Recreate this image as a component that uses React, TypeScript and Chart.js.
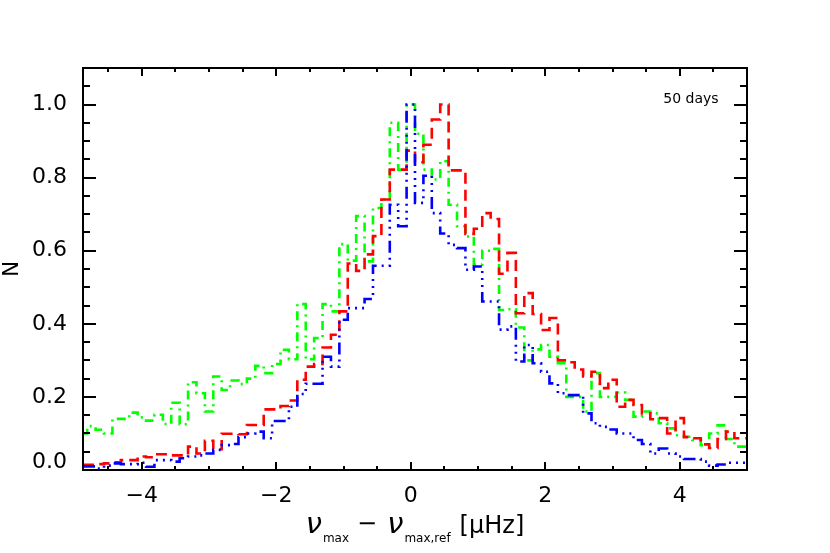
import { useEffect, useRef } from "react";
import { Chart, registerables } from "chart.js";

Chart.register(...registerables);

// Bin centres (x, in µHz) of the histograms
const BIN_CENTERS = [
  -4.875, -4.75, -4.625, -4.5, -4.375, -4.25, -4.125, -4, -3.875, -3.75,
  -3.625, -3.5, -3.375, -3.25, -3.125, -3, -2.875, -2.75, -2.625, -2.5,
  -2.375, -2.25, -2.125, -2, -1.875, -1.75, -1.625, -1.5, -1.375, -1.25,
  -1.125, -1, -0.875, -0.75, -0.625, -0.5, -0.375, -0.25, -0.125, 0,
  0.125, 0.25, 0.375, 0.5, 0.625, 0.75, 0.875, 1, 1.125, 1.25,
  1.375, 1.5, 1.625, 1.75, 1.875, 2, 2.125, 2.25, 2.375, 2.5,
  2.625, 2.75, 2.875, 3, 3.125, 3.25, 3.375, 3.5, 3.625, 3.75,
  3.875, 4, 4.125, 4.25, 4.375, 4.5, 4.625, 4.75, 4.875, 5,
];

const GREEN_N = [
  0.1, 0.12, 0.11, 0.1, 0.14, 0.14, 0.157, 0.144, 0.135, 0.151,
  0.126, 0.184, 0.125, 0.24, 0.21, 0.16, 0.256, 0.219, 0.245, 0.235,
  0.25, 0.285, 0.265, 0.29, 0.329, 0.303, 0.454, 0.303, 0.361, 0.454,
  0.434, 0.618, 0.573, 0.695, 0.571, 0.717, 0.74, 0.95, 0.822, 1.0,
  0.92, 0.822, 0.795, 0.845, 0.726, 0.667, 0.639, 0.562, 0.6, 0.605,
  0.438, 0.44, 0.39, 0.3, 0.33, 0.342, 0.31, 0.292, 0.2, 0.2,
  0.16, 0.265, 0.2, 0.2, 0.212, 0.192, 0.146, 0.16, 0.155, 0.128,
  0.114, 0.095, 0.091, 0.082, 0.068, 0.1, 0.122, 0.085, 0.064, 0.064,
];

const RED_N = [
  0.014, 0.014, 0.016, 0.018, 0.021, 0.027, 0.027, 0.037, 0.035, 0.043,
  0.043, 0.04, 0.04, 0.064, 0.045, 0.08, 0.057, 0.099, 0.099, 0.098,
  0.123, 0.123, 0.166, 0.166, 0.175, 0.19, 0.247, 0.283, 0.29, 0.335,
  0.37, 0.434, 0.565, 0.545, 0.59, 0.64, 0.74, 0.822, 0.822, 0.874,
  0.842, 0.89, 0.959, 1.0, 0.82, 0.82, 0.646, 0.66, 0.703, 0.687,
  0.537, 0.594, 0.429, 0.484, 0.427, 0.383, 0.416, 0.3, 0.295, 0.275,
  0.256, 0.269, 0.224, 0.247, 0.173, 0.192, 0.178, 0.155, 0.139, 0.142,
  0.1, 0.142, 0.09, 0.087, 0.07, 0.06, 0.085, 0.105, 0.087, 0.087,
];

const BLUE_N = [
  0.01, 0.01, 0.004, 0.012, 0.018, 0.016, 0.016, 0.02, 0.009, 0.027,
  0.027, 0.023, 0.032, 0.037, 0.04, 0.045, 0.055, 0.068, 0.071, 0.09,
  0.1, 0.105, 0.087, 0.134, 0.134, 0.173, 0.208, 0.236, 0.236, 0.31,
  0.283, 0.411, 0.443, 0.443, 0.468, 0.559, 0.559, 0.726, 0.667, 1.0,
  0.731, 0.805, 0.703, 0.647, 0.616, 0.607, 0.548, 0.557, 0.461, 0.461,
  0.384, 0.393, 0.297, 0.342, 0.292, 0.269, 0.237, 0.21, 0.205, 0.205,
  0.155, 0.128, 0.118, 0.111, 0.1, 0.1, 0.082, 0.071, 0.045, 0.059,
  0.045, 0.037, 0.03, 0.03, 0.023, 0.012, 0.015, 0.02, 0.02, 0.02,
];

const X_MIN = -4.875;
const X_MAX = 5.0;
const Y_MIN = 0;
const Y_MAX = 1.1;

const X_TICKS = [-4, -2, 0, 2, 4];
const X_TICK_LABELS = ["\u22124", "\u22122", "0", "2", "4"];
const X_MINOR_TICKS = [-4.5, -3.5, -3, -2.5, -1.5, -1, -0.5, 0.5, 1, 1.5, 2.5, 3, 3.5, 4.5];
const Y_TICKS = [0, 0.2, 0.4, 0.6, 0.8, 1.0];
const Y_TICK_LABELS = ["0.0", "0.2", "0.4", "0.6", "0.8", "1.0"];
const Y_MINOR_TICKS = [0.05, 0.1, 0.15, 0.25, 0.3, 0.35, 0.45, 0.5, 0.55, 0.65, 0.7, 0.75, 0.85, 0.9, 0.95, 1.05];

const ANNOTATION = "50 days";
const Y_TITLE = "N";

const FONT = '"DejaVu Sans", "Liberation Sans", sans-serif';

const framePlugin = {
  id: "idlFrame",
  afterDatasetsDraw(chart: any) {
    const { ctx, chartArea: a, scales } = chart;
    const xs = scales.x;
    const ys = scales.y;
    ctx.save();
    ctx.strokeStyle = "#000";
    ctx.lineWidth = 2;
    ctx.lineCap = "butt";
    ctx.strokeRect(a.left, a.top, a.right - a.left, a.bottom - a.top);
    ctx.beginPath();
    const xt = (v: number, len: number) => {
      const px = Math.round(xs.getPixelForValue(v));
      ctx.moveTo(px, a.bottom);
      ctx.lineTo(px, a.bottom - len);
      ctx.moveTo(px, a.top);
      ctx.lineTo(px, a.top + len);
    };
    const yt = (v: number, len: number) => {
      const py = Math.round(ys.getPixelForValue(v));
      ctx.moveTo(a.left, py);
      ctx.lineTo(a.left + len, py);
      ctx.moveTo(a.right, py);
      ctx.lineTo(a.right - len, py);
    };
    X_TICKS.forEach((v) => xt(v, 8));
    X_MINOR_TICKS.forEach((v) => xt(v, 4));
    Y_TICKS.forEach((v) => yt(v, 13));
    Y_MINOR_TICKS.forEach((v) => yt(v, 7));
    ctx.stroke();
    ctx.restore();
  },
  afterDraw(chart: any) {
    const { ctx, chartArea: a, scales } = chart;
    const ys = scales.y;
    ctx.save();
    ctx.fillStyle = "#000";
    // lowest y label (drawn raised, as in the original)
    ctx.font = `22px ${FONT}`;
    ctx.textAlign = "right";
    ctx.textBaseline = "middle";
    ctx.fillText(Y_TICK_LABELS[0], a.left - 16, ys.getPixelForValue(Y_TICKS[0]) - 8);

    // annotation
    ctx.font = `14px ${FONT}`;
    ctx.textAlign = "center";
    ctx.fillText(ANNOTATION, a.right - 56, a.top + 31);

    // x-axis title with subscripts
    const parts: { t: string; font: string; dy: number; gap: number }[] = [
      { t: "\u03bd", font: `italic 29px ${FONT}`, dy: 0, gap: 0 },
      { t: "max", font: `12px ${FONT}`, dy: 9, gap: 1 },
      { t: "\u2212", font: `24px ${FONT}`, dy: -2, gap: 8 },
      { t: "\u03bd", font: `italic 29px ${FONT}`, dy: 0, gap: 10 },
      { t: "max,ref", font: `12px ${FONT}`, dy: 9, gap: 1 },
      { t: "[\u03bcHz]", font: `24px ${FONT}`, dy: 0, gap: 9 },
    ];
    let total = 0;
    const widths = parts.map((p) => {
      ctx.font = p.font;
      const w = ctx.measureText(p.t).width;
      total += w + p.gap;
      return w;
    });
    let x = (a.left + a.right) / 2 - total / 2;
    const base = 533;
    ctx.textAlign = "left";
    ctx.textBaseline = "alphabetic";
    parts.forEach((p, i) => {
      x += p.gap;
      ctx.font = p.font;
      ctx.fillText(p.t, x, base + p.dy);
      x += widths[i];
    });
    ctx.restore();
  },
};

export default function App() {
  const ref = useRef<HTMLCanvasElement>(null);
  useEffect(() => {
    document.body.style.margin = "0";
    const canvas = ref.current;
    if (!canvas) return;
    const mk = (vals: number[]) => BIN_CENTERS.map((x, i) => ({ x, y: vals[i] }));
    const chart = new Chart(canvas, {
      type: "line",
      data: {
        datasets: [
          {
            label: "blue",
            data: mk(BLUE_N),
            borderColor: "#0000ff",
            borderWidth: 2.6,
            borderDash: [12, 5, 2, 5, 2, 5, 2, 5],
            stepped: "middle",
            pointRadius: 0,
            fill: false,
          },
          {
            label: "red",
            data: mk(RED_N),
            borderColor: "#ff0000",
            borderWidth: 2.6,
            borderDash: [11, 6],
            stepped: "middle",
            pointRadius: 0,
            fill: false,
          },
          {
            label: "green",
            data: mk(GREEN_N),
            borderColor: "#00ff00",
            borderWidth: 2.6,
            borderDash: [9, 5, 2, 5],
            stepped: "middle",
            pointRadius: 0,
            fill: false,
          },
        ],
      },
      options: {
        animation: false,
        responsive: false,
        devicePixelRatio: 1,
        layout: { padding: { left: 0, right: 83, top: 68, bottom: 0 } },
        plugins: { legend: { display: false }, tooltip: { enabled: false } },
        scales: {
          x: {
            type: "linear",
            min: X_MIN,
            max: X_MAX,
            grid: { display: false, drawTicks: false },
            border: { display: false },
            afterBuildTicks: (s: any) => {
              s.ticks = X_TICKS.map((v) => ({ value: v }));
            },
            afterFit: (s: any) => {
              s.height = 83;
            },
            ticks: {
              callback: (_v: any, i: number) => X_TICK_LABELS[i],
              font: { family: FONT, size: 22 },
              color: "#000",
              padding: 13,
              maxRotation: 0,
              autoSkip: false,
            },
          },
          y: {
            type: "linear",
            min: Y_MIN,
            max: Y_MAX,
            grid: { display: false, drawTicks: false },
            border: { display: false },
            afterBuildTicks: (s: any) => {
              s.ticks = Y_TICKS.map((v) => ({ value: v }));
            },
            afterFit: (s: any) => {
              s.width = 83;
            },
            ticks: {
              callback: (_v: any, i: number) => (i === 0 ? "" : Y_TICK_LABELS[i]),
              font: { family: FONT, size: 22 },
              color: "#000",
              padding: 16,
              autoSkip: false,
            },
            title: {
              display: true,
              text: Y_TITLE,
              font: { family: FONT, size: 21 },
              color: "#000",
              padding: { top: 0, bottom: 0 },
            },
          },
        },
      },
      plugins: [framePlugin],
    } as any);
    return () => chart.destroy();
  }, []);
  return <canvas ref={ref} width={830} height={553} style={{ display: "block" }} />;
}
